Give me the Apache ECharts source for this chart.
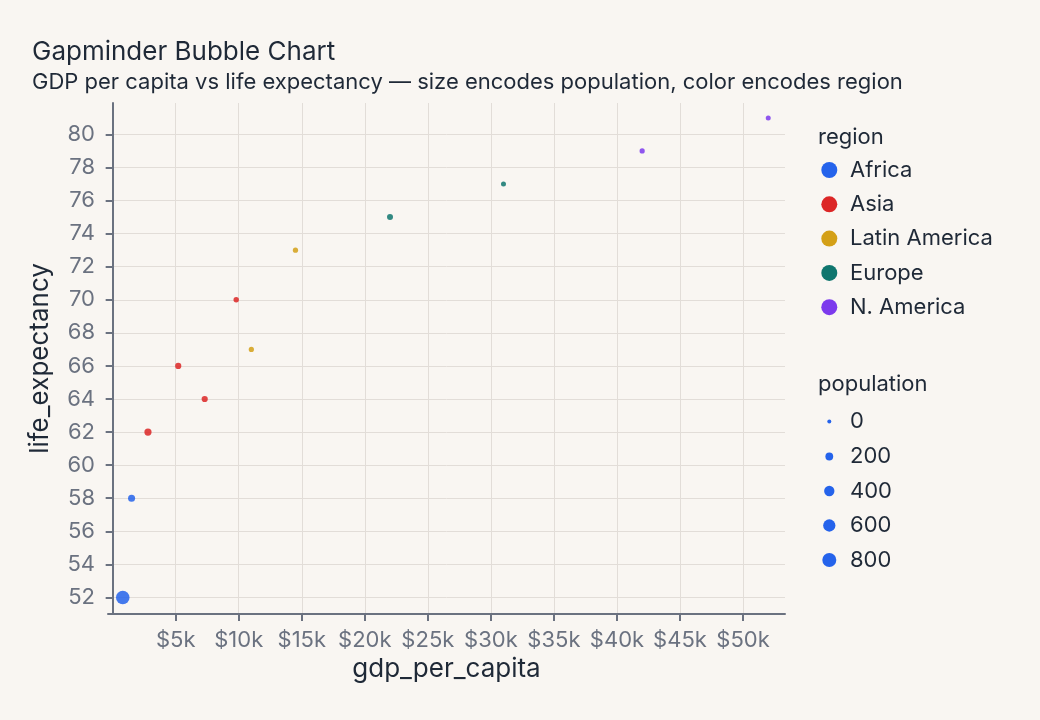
<!DOCTYPE html>
<html>
<head>
<meta charset="utf-8">
<script src="https://cdn.jsdelivr.net/npm/echarts@6/dist/echarts.min.js"></script>
<style>
  html, body { margin: 0; padding: 0; background: #f9f6f2; }
  #chart { width: 1040px; height: 720px; }
</style>
</head>
<body>
<div id="chart"></div>
<script>
// data
var regions = ['Africa', 'Asia', 'Latin America', 'Europe', 'N. America'];
var pointRegion = ['Africa', 'Africa', 'Asia', 'Asia', 'Asia', 'Asia',
    'Latin America', 'Latin America', 'Europe', 'Europe', 'N. America', 'N. America'];
var gdpPerCapita = [800, 1500, 2800, 5200, 7300, 9800, 11000, 14500, 22000, 31000, 42000, 52000];
var lifeExpectancy = [52, 58, 62, 66, 64, 70, 67, 73, 75, 77, 79, 81];
var population = [750, 150, 160, 100, 100, 60, 50, 50, 90, 40, 50, 40];
var popLegendValues = [0, 200, 400, 600, 800];
var xTickValues = [5000, 10000, 15000, 20000, 25000, 30000, 35000, 40000, 45000, 50000];
var yTickValues = [52, 54, 56, 58, 60, 62, 64, 66, 68, 70, 72, 74, 76, 78, 80];

var colors = ['#2563eb', '#dc2626', '#d4a017', '#0f766e', '#7c3aed'];
var font = 'Inter, "Noto Sans", sans-serif';
var ink = '#1f2937';

// area grows linearly with population
function sizeOf(pop) {
    return Math.sqrt(16 + 0.225 * pop);
}

var chart = echarts.init(document.getElementById('chart'));

var series = regions.map(function (r, i) {
    var pts = [];
    for (var k = 0; k < pointRegion.length; k++) {
        if (pointRegion[k] === r) pts.push([gdpPerCapita[k], lifeExpectancy[k], population[k]]);
    }
    return {
        name: r,
        type: 'scatter',
        data: pts,
        symbolSize: function (v) { return sizeOf(v[2]); },
        itemStyle: { color: colors[i], opacity: 0.85 }
    };
});

// empty series only to feed the size legend
popLegendValues.forEach(function (p) {
    series.push({
        name: String(p),
        type: 'scatter',
        data: [],
        itemStyle: { color: colors[0], opacity: 1 }
    });
});

var legends = [{
    data: regions,
    orient: 'vertical',
    left: 821.3,
    top: 159,
    padding: 0,
    itemWidth: 16,
    itemHeight: 16,
    itemGap: 12.3,
    icon: 'circle',
    itemStyle: { opacity: 1 },
    textStyle: { fontFamily: font, fontSize: 22, color: ink, padding: [0, 0, 0, 7.7] }
}];

var popCenters = [421.5, 456.5, 491, 525.5, 560];
popLegendValues.forEach(function (p, i) {
    var d = sizeOf(p);
    legends.push({
        data: [String(p)],
        orient: 'vertical',
        left: 829.3 - d / 2,
        top: popCenters[i] - 11,
        padding: 0,
        itemWidth: d,
        itemHeight: d,
        icon: 'circle',
        itemStyle: { opacity: 1 },
        textStyle: { fontFamily: font, fontSize: 22, color: ink, padding: [0, 0, 0, 15.7 - d / 2] }
    });
});

var option = {
    backgroundColor: '#f9f6f2',
    animation: false,
    title: [{
        text: 'Gapminder Bubble Chart',
        subtext: 'GDP per capita vs life expectancy \u2014 size encodes population, color encodes region',
        left: 32,
        top: 39,
        padding: 0,
        itemGap: 6,
        textStyle: { fontFamily: font, fontSize: 26, fontWeight: 'normal', color: ink },
        subtextStyle: { fontFamily: font, fontSize: 22, color: ink }
    }, {
        text: 'region',
        left: 818,
        top: 126,
        padding: 0,
        textStyle: { fontFamily: font, fontSize: 22, fontWeight: 'normal', color: ink }
    }, {
        text: 'population',
        left: 818,
        top: 373,
        padding: 0,
        textStyle: { fontFamily: font, fontSize: 22, fontWeight: 'normal', color: ink }
    }],
    legend: legends,
    grid: { left: 108, right: 255, top: 103, bottom: 106 },
    xAxis: {
        type: 'value',
        min: -370,
        max: 53330,
        name: 'gdp_per_capita',
        nameLocation: 'middle',
        nameGap: 36,
        nameTextStyle: { fontFamily: font, fontSize: 26, color: ink },
        axisLine: { show: true, lineStyle: { color: '#6b7280', width: 2 } },
        axisTick: { show: true, length: 7, customValues: xTickValues, lineStyle: { color: '#6b7280', width: 2 } },
        axisLabel: {
            customValues: xTickValues,
            margin: 15,
            fontFamily: font, fontSize: 22, color: '#6b7280',
            formatter: function (v) { return '$' + (v / 1000) + 'k'; }
        },
        splitLine: { show: true, lineStyle: { color: '#e2ddd8', width: 1 } }
    },
    yAxis: {
        type: 'value',
        min: 51,
        max: 81.9,
        name: 'life_expectancy',
        nameLocation: 'middle',
        nameGap: 55,
        nameTextStyle: { fontFamily: font, fontSize: 26, color: ink },
        axisLine: { show: true, lineStyle: { color: '#6b7280', width: 2 } },
        axisTick: { show: true, length: 7, customValues: yTickValues, lineStyle: { color: '#6b7280', width: 2 } },
        axisLabel: {
            customValues: yTickValues,
            margin: 13,
            fontFamily: font, fontSize: 22, color: '#6b7280'
        },
        splitLine: { show: true, lineStyle: { color: '#e2ddd8', width: 1 } }
    },
    series: series
};

chart.setOption(option);
</script>
</body>
</html>
